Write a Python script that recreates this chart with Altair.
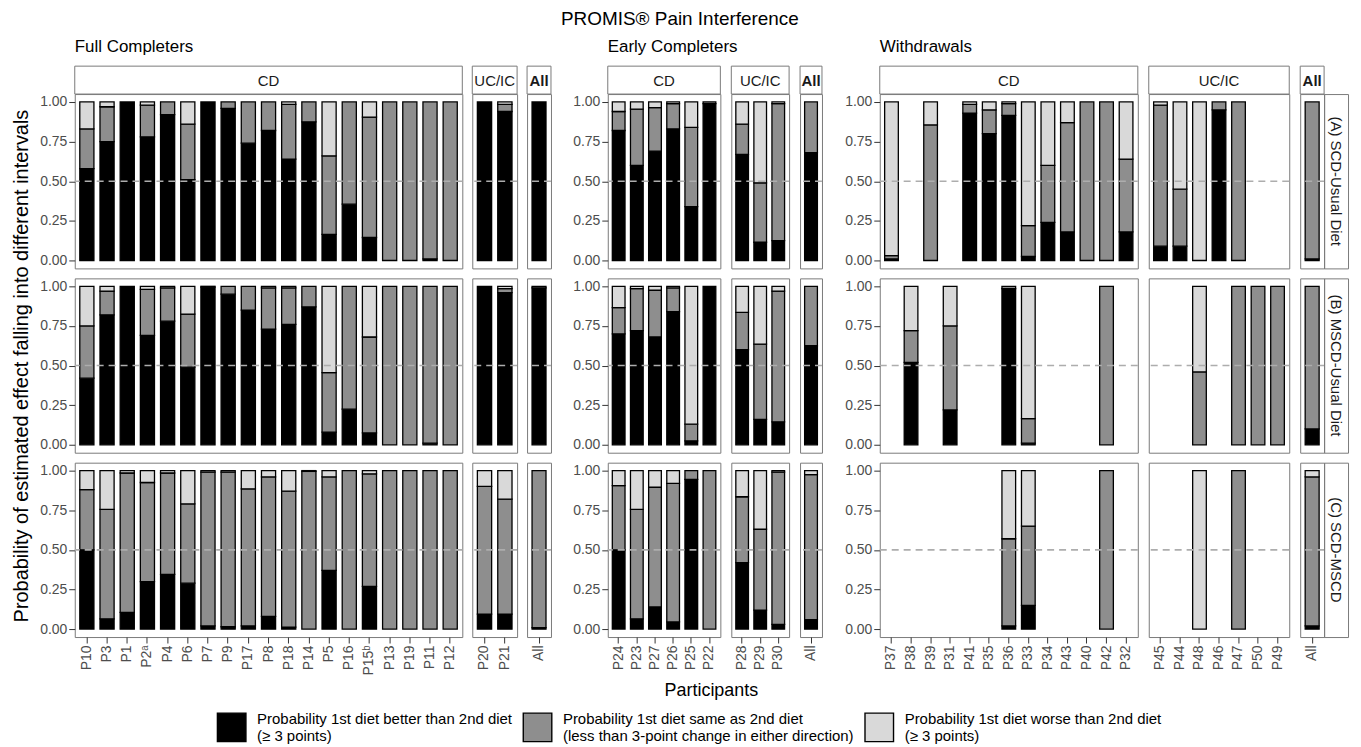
import altair as alt
import pandas as pd

# ---------------- data ----------------
CATS = [
    "Probability 1st diet better than 2nd diet\n(≥ 3 points)",
    "Probability 1st diet same as 2nd diet\n(less than 3-point change in either direction)",
    "Probability 1st diet worse than 2nd diet\n(≥ 3 points)",
]
COLORS = ["#000000", "#8E8E8E", "#D9D9D9"]
ROWS = ["(A) SCD-Usual Diet", "(B) MSCD-Usual Diet", "(C) SCD-MSCD"]

# Full Completers
fc_ids = ["P10", "P3", "P1", "P2ᵃ", "P4", "P6", "P7", "P9", "P17", "P8", "P18", "P14", "P5",
          "P16", "P15ᵇ", "P13", "P19", "P11", "P12", "P20", "P21", "All"]
fc_subs = ["CD"] * 19 + ["UC/IC"] * 2 + ["All"]
fc_A_better = [0.58, 0.75, 1.00, 0.78, 0.92, 0.51, 1.00, 0.96, 0.74, 0.82, 0.64, 0.875, 0.165, 0.355, 0.145, 0.0, 0.0, 0.01, 0.0, 1.00, 0.94, 1.00]
fc_A_same = [0.25, 0.22, 0.0, 0.20, 0.08, 0.35, 0.0, 0.04, 0.26, 0.18, 0.345, 0.125, 0.495, 0.645, 0.76, 1.0, 1.0, 0.99, 1.0, 0.0, 0.045, 0.0]
fc_A_worse = [0.17, 0.03, 0.0, 0.02, 0.0, 0.14, 0.0, 0.0, 0.0, 0.0, 0.015, 0.0, 0.34, 0.0, 0.095, 0.0, 0.0, 0.0, 0.0, 0.0, 0.015, 0.0]
fc_B_better = [0.42, 0.82, 1.00, 0.69, 0.78, 0.49, 0.995, 0.95, 0.85, 0.73, 0.76, 0.87, 0.08, 0.225, 0.075, 0.0, 0.0, 0.01, 0.0, 1.00, 0.96, 0.99]
fc_B_same = [0.33, 0.15, 0.0, 0.29, 0.21, 0.335, 0.005, 0.05, 0.15, 0.26, 0.23, 0.13, 0.375, 0.775, 0.605, 1.0, 1.0, 0.99, 1.0, 0.0, 0.025, 0.01]
fc_B_worse = [0.25, 0.03, 0.0, 0.02, 0.01, 0.175, 0.0, 0.0, 0.0, 0.01, 0.01, 0.0, 0.545, 0.0, 0.32, 0.0, 0.0, 0.0, 0.0, 0.0, 0.015, 0.0]
fc_C_better = [0.50, 0.065, 0.105, 0.30, 0.345, 0.29, 0.02, 0.015, 0.02, 0.08, 0.013, 0.0, 0.37, 0.0, 0.27, 0.0, 0.0, 0.0, 0.0, 0.095, 0.095, 0.01]
fc_C_same = [0.38, 0.69, 0.88, 0.625, 0.64, 0.50, 0.97, 0.975, 0.865, 0.88, 0.857, 0.995, 0.59, 1.0, 0.71, 1.0, 1.0, 1.0, 1.0, 0.805, 0.725, 0.99]
fc_C_worse = [0.12, 0.245, 0.015, 0.075, 0.015, 0.21, 0.01, 0.01, 0.115, 0.04, 0.13, 0.005, 0.04, 0.0, 0.02, 0.0, 0.0, 0.0, 0.0, 0.10, 0.18, 0.0]

# Early Completers
ec_ids = ["P24", "P23", "P27", "P26", "P25", "P22", "P28", "P29", "P30", "All"]
ec_subs = ["CD"] * 6 + ["UC/IC"] * 3 + ["All"]
ec_A_better = [0.82, 0.60, 0.69, 0.83, 0.34, 0.99, 0.67, 0.115, 0.125, 0.68]
ec_A_same = [0.12, 0.355, 0.275, 0.16, 0.50, 0.01, 0.19, 0.375, 0.865, 0.32]
ec_A_worse = [0.06, 0.045, 0.035, 0.01, 0.16, 0.0, 0.14, 0.51, 0.01, 0.0]
ec_B_better = [0.70, 0.72, 0.68, 0.84, 0.025, 1.00, 0.60, 0.16, 0.145, 0.625]
ec_B_same = [0.165, 0.265, 0.295, 0.15, 0.105, 0.0, 0.235, 0.475, 0.825, 0.375]
ec_B_worse = [0.135, 0.015, 0.025, 0.01, 0.87, 0.0, 0.165, 0.365, 0.03, 0.0]
ec_C_better = [0.50, 0.065, 0.14, 0.045, 0.945, 0.0, 0.42, 0.12, 0.03, 0.06]
ec_C_same = [0.405, 0.69, 0.755, 0.875, 0.055, 1.0, 0.415, 0.51, 0.96, 0.915]
ec_C_worse = [0.095, 0.245, 0.105, 0.08, 0.0, 0.0, 0.165, 0.37, 0.01, 0.025]

# Withdrawals (None = no estimate)
wd_ids = ["P37", "P38", "P39", "P31", "P41", "P35", "P36", "P33", "P34", "P43", "P40", "P42", "P32",
          "P45", "P44", "P48", "P46", "P47", "P50", "P49", "All"]
wd_subs = ["CD"] * 13 + ["UC/IC"] * 7 + ["All"]
N = None
wd_A_better = [0.01, N, 0.0, N, 0.93, 0.80, 0.915, 0.025, 0.24, 0.18, 0.0, 0.0, 0.18, 0.09, 0.09, 0.0, 0.95, 0.0, N, N, 0.01]
wd_A_same = [0.02, N, 0.855, N, 0.055, 0.15, 0.075, 0.195, 0.36, 0.69, 1.0, 1.0, 0.46, 0.89, 0.36, 0.0, 0.05, 1.0, N, N, 0.99]
wd_A_worse = [0.97, N, 0.145, N, 0.015, 0.05, 0.01, 0.78, 0.40, 0.13, 0.0, 0.0, 0.36, 0.02, 0.55, 1.0, 0.0, 0.0, N, N, 0.0]
wd_B_better = [N, 0.52, N, 0.22, N, N, 0.985, 0.01, N, N, N, 0.0, N, N, N, 0.0, N, 0.0, 0.0, 0.0, 0.10]
wd_B_same = [N, 0.20, N, 0.53, N, N, 0.015, 0.155, N, N, N, 1.0, N, N, N, 0.46, N, 1.0, 1.0, 1.0, 0.90]
wd_B_worse = [N, 0.28, N, 0.25, N, N, 0.0, 0.835, N, N, N, 0.0, N, N, N, 0.54, N, 0.0, 0.0, 0.0, 0.0]
wd_C_better = [N, N, N, N, N, N, 0.02, 0.15, N, N, N, 0.0, N, N, N, 0.0, N, 0.0, N, N, 0.02]
wd_C_same = [N, N, N, N, N, N, 0.55, 0.50, N, N, N, 1.0, N, N, N, 0.0, N, 1.0, N, N, 0.94]
wd_C_worse = [N, N, N, N, N, N, 0.43, 0.35, N, N, N, 0.0, N, N, N, 1.0, N, 0.0, N, N, 0.04]

GROUPS = {
    "Full Completers": (fc_ids, fc_subs, {
        ROWS[0]: (fc_A_better, fc_A_same, fc_A_worse),
        ROWS[1]: (fc_B_better, fc_B_same, fc_B_worse),
        ROWS[2]: (fc_C_better, fc_C_same, fc_C_worse)}),
    "Early Completers": (ec_ids, ec_subs, {
        ROWS[0]: (ec_A_better, ec_A_same, ec_A_worse),
        ROWS[1]: (ec_B_better, ec_B_same, ec_B_worse),
        ROWS[2]: (ec_C_better, ec_C_same, ec_C_worse)}),
    "Withdrawals": (wd_ids, wd_subs, {
        ROWS[0]: (wd_A_better, wd_A_same, wd_A_worse),
        ROWS[1]: (wd_B_better, wd_B_same, wd_B_worse),
        ROWS[2]: (wd_C_better, wd_C_same, wd_C_worse)}),
}

recs = []
for g, (ids, subs, rows) in GROUPS.items():
    for r, arrs in rows.items():
        for k, arr in enumerate(arrs):
            for pid, sub, v in zip(ids, subs, arr):
                if v is None or v <= 0:
                    continue
                recs.append({"group": g, "row": r, "pid": pid, "sub": sub, "cat": CATS[k], "k": k, "v": v})
df = pd.DataFrame(recs)

# ---------------- layout ----------------
PANEL_H = 175
STRIP_H = 28
ROW_GAP = 10
UNIT = {"Full Completers": 20.25, "Early Completers": 18.2, "Withdrawals": 19.6}
INNER_GAP = {"Full Completers": 10, "Early Completers": 11, "Withdrawals": 11}
GROUP_GAPS = [57, 58]
RSTRIP_W = 24
FS_TICK = 14
FS_STRIP = 15
AX_COL = "#4D4D4D"
BORDER = "#7A7A7A"
ORIGIN_X, ORIGIN_Y = 73, 92      # page position of the first panel's top-left corner

cscale = alt.Scale(domain=CATS, range=COLORS)
legend = alt.Legend(orient="none", legendX=215 - ORIGIN_X, legendY=712 - ORIGIN_Y,
                    direction="horizontal", columns=3,
                    title=None, symbolType="square", symbolSize=820, symbolStrokeColor="black",
                    symbolStrokeWidth=1.4, symbolOpacity=1, labelFontSize=15, labelLimit=600,
                    labelColor="black", labelExpr="split(datum.label, '\\n')",
                    labelBaseline="bottom", columnPadding=8, labelOffset=10, padding=0)
yscale = alt.Scale(domain=[-0.05, 1.05], nice=False, zero=False)


def one(text):
    return pd.DataFrame({"t": [text]})


def yaxis(title=None):
    return alt.Axis(values=[0, 0.25, 0.5, 0.75, 1.0], format=".2f", title=title, domain=False,
                    grid=False, tickSize=6, tickColor="#333333", labelPadding=2,
                    labelFontSize=FS_TICK, labelColor=AX_COL, titleFontSize=20,
                    titleFontWeight="normal", titleColor="black", titlePadding=8)


def width_of(group, sub):
    ids, subs, _ = GROUPS[group]
    n = sum(1 for s in subs if s == sub)
    return round((n + 0.2) * UNIT[group])


def panel(group, sub, row_i, first_col):
    row = ROWS[row_i]
    ids, subs, _ = GROUPS[group]
    dom = [p for p, s in zip(ids, subs) if s == sub]
    w = width_of(group, sub)
    bottom = row_i == 2
    d = df[(df.group == group) & (df.row == row) & (df["sub"] == sub)]
    xaxis = alt.Axis(title=None, labelAngle=270, domain=False, grid=False, tickSize=6,
                     tickColor="#333333", labelPadding=2, labelFontSize=FS_TICK,
                     labelColor=AX_COL) if bottom else None
    ytitle = "Probability of estimated effect falling into different intervals" \
        if (group == "Full Completers" and first_col and row_i == 1) else None
    ya = yaxis(ytitle) if first_col else None
    bars = alt.Chart(d).mark_bar(stroke="black", strokeWidth=1.3).encode(
        x=alt.X("pid:N", scale=alt.Scale(domain=dom, paddingInner=0.3, paddingOuter=0.25),
                axis=xaxis, sort=dom),
        y=alt.Y("v:Q", stack="zero", scale=yscale, axis=ya),
        color=alt.Color("cat:N", scale=cscale, legend=legend),
        order=alt.Order("k:Q"),
    )
    rule = alt.Chart(pd.DataFrame({"h": [0.5]})).mark_rule(
        color="#ADADAD", strokeDash=[7, 5], strokeWidth=1.6).encode(
        y=alt.Y("h:Q", scale=yscale, axis=ya))
    layers = [bars, rule]
    if row_i == 0:
        # facet strip above the panel
        layers.append(alt.Chart(one(sub)).mark_rect(fill="white", stroke=BORDER, strokeWidth=1).encode(
            x=alt.value(0), x2=alt.value(w), y=alt.value(-STRIP_H), y2=alt.value(0)))
        layers.append(alt.Chart(one(sub)).mark_text(
            fontSize=FS_STRIP, color="#1A1A1A", fontWeight="bold" if sub == "All" else "normal").encode(
            text="t:N", x=alt.value(w / 2), y=alt.value(-STRIP_H / 2 + 1)))
        if first_col:
            layers.append(alt.Chart(one(group)).mark_text(
                fontSize=17, color="black", align="left", baseline="middle").encode(
                text="t:N", x=alt.value(0), y=alt.value(45 - ORIGIN_Y)))
    if bottom and group == "Early Completers" and sub == "CD":
        layers.append(alt.Chart(one("Participants")).mark_text(
            fontSize=18, color="black", baseline="middle").encode(
            text="t:N", x=alt.value(712 - 608), y=alt.value(692 - 463)))
    return alt.layer(*layers).properties(width=w, height=PANEL_H)


def rstrip(text):
    return alt.Chart(one(text)).mark_text(
        fontSize=FS_STRIP, color="#1A1A1A", angle=90).encode(
        text="t:N", x=alt.value(RSTRIP_W / 2), y=alt.value(PANEL_H / 2)).properties(
        width=RSTRIP_W, height=PANEL_H)


def spacer(w):
    return alt.Chart(one("")).mark_text().encode(text="t:N").properties(
        width=w, height=PANEL_H, view=alt.ViewBackground(stroke="transparent"))


# column plan: ("panel", group, sub, first) | ("gap", width) | ("strip",)
plan = []
for gi, g in enumerate(GROUPS):
    if gi > 0:
        plan.append(("gap", GROUP_GAPS[gi - 1]))
    for si, sub in enumerate(["CD", "UC/IC", "All"]):
        if si > 0:
            plan.append(("gap", INNER_GAP[g]))
        plan.append(("panel", g, sub, si == 0))
plan.append(("strip",))

cells = []
for ri in range(3):
    for p in plan:
        if p[0] == "panel":
            cells.append(panel(p[1], p[2], ri, p[3]))
        elif p[0] == "gap":
            cells.append(spacer(p[1]))
        else:
            cells.append(rstrip(ROWS[ri]))

chart = alt.concat(*cells, columns=len(plan), spacing={"row": ROW_GAP, "column": 0},
                   bounds="flush", align="each").properties(
    title=alt.Title("PROMIS® Pain Interference", fontSize=19, fontWeight="normal", anchor="middle",
                    color="black", offset=9),
    padding={"left": 3, "top": 0, "right": 4, "bottom": 0},
).resolve_scale(color="shared").configure(
    font="Liberation Sans, DejaVu Sans, sans-serif").configure_view(stroke=BORDER, strokeWidth=1)

chart.save("out.html", embed_options={"renderer": "svg", "actions": False})
